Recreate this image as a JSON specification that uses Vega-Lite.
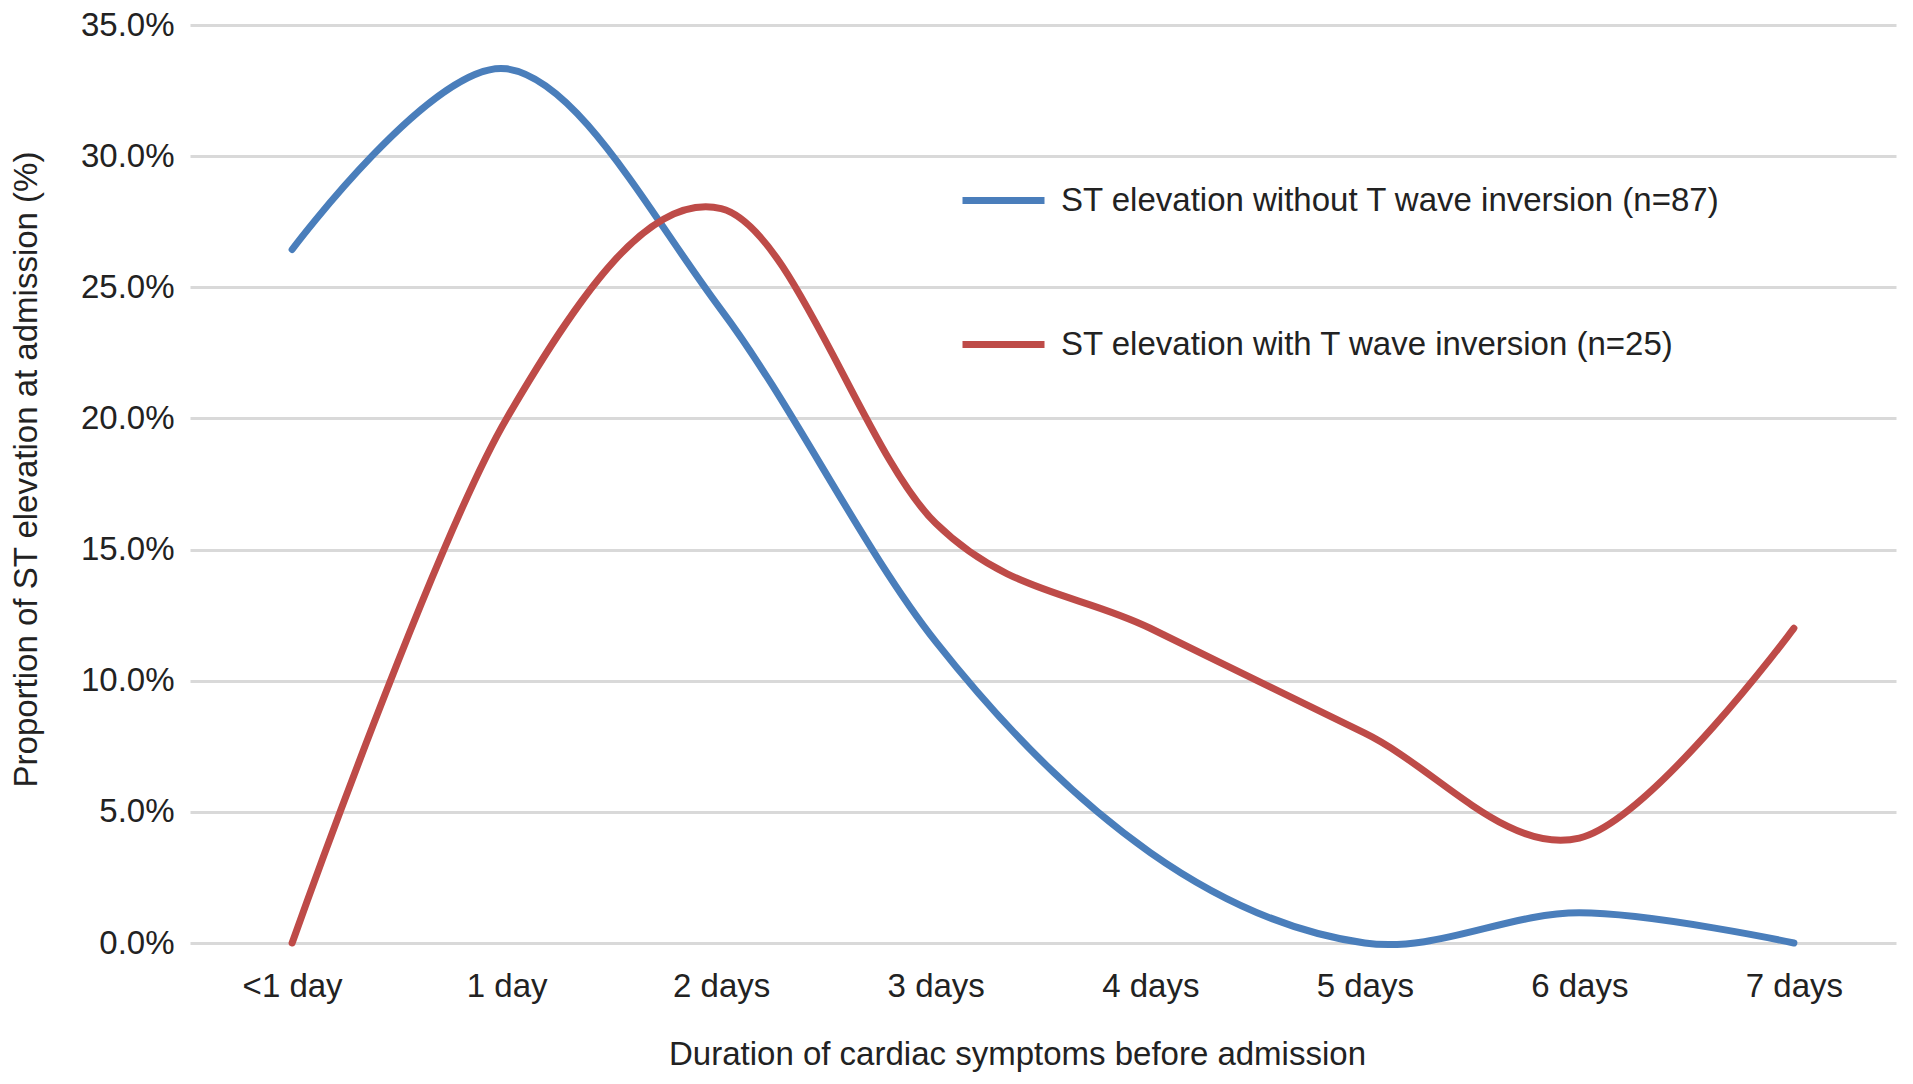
{
  "$schema": "https://vega.github.io/schema/vega-lite/v6.json",
  "width": 1706,
  "height": 918,
  "autosize": "none",
  "padding": {"left": 190, "top": 25, "right": 17, "bottom": 141},
  "background": "white",
  "data": {
    "values": [
      {"duration": "<1 day", "group": "ST elevation without T wave inversion (n=87)", "proportion": 0.2644},
      {"duration": "1 day", "group": "ST elevation without T wave inversion (n=87)", "proportion": 0.3333},
      {"duration": "2 days", "group": "ST elevation without T wave inversion (n=87)", "proportion": 0.2414},
      {"duration": "3 days", "group": "ST elevation without T wave inversion (n=87)", "proportion": 0.1149},
      {"duration": "4 days", "group": "ST elevation without T wave inversion (n=87)", "proportion": 0.0345},
      {"duration": "5 days", "group": "ST elevation without T wave inversion (n=87)", "proportion": 0.0},
      {"duration": "6 days", "group": "ST elevation without T wave inversion (n=87)", "proportion": 0.0115},
      {"duration": "7 days", "group": "ST elevation without T wave inversion (n=87)", "proportion": 0.0},
      {"duration": "<1 day", "group": "ST elevation with T wave inversion (n=25)", "proportion": 0.0},
      {"duration": "1 day", "group": "ST elevation with T wave inversion (n=25)", "proportion": 0.20},
      {"duration": "2 days", "group": "ST elevation with T wave inversion (n=25)", "proportion": 0.28},
      {"duration": "3 days", "group": "ST elevation with T wave inversion (n=25)", "proportion": 0.16},
      {"duration": "4 days", "group": "ST elevation with T wave inversion (n=25)", "proportion": 0.12},
      {"duration": "5 days", "group": "ST elevation with T wave inversion (n=25)", "proportion": 0.08},
      {"duration": "6 days", "group": "ST elevation with T wave inversion (n=25)", "proportion": 0.04},
      {"duration": "7 days", "group": "ST elevation with T wave inversion (n=25)", "proportion": 0.12}
    ]
  },
  "mark": {"type": "line", "interpolate": "cardinal", "strokeWidth": 7, "strokeCap": "round"},
  "encoding": {
    "x": {
      "field": "duration",
      "type": "ordinal",
      "sort": ["<1 day", "1 day", "2 days", "3 days", "4 days", "5 days", "6 days", "7 days"],
      "scale": {"type": "point", "padding": 0.476},
      "axis": {
        "title": "Duration of cardiac symptoms before admission",
        "labelAngle": 0,
        "labelPadding": 27,
        "titlePadding": 35,
        "titleX": 827,
        "titleAlign": "center",
        "titleAnchor": null,
        "ticks": false,
        "domain": false,
        "grid": false
      }
    },
    "y": {
      "field": "proportion",
      "type": "quantitative",
      "scale": {"domain": [0, 0.35], "nice": false, "zero": true},
      "axis": {
        "title": "Proportion of ST elevation at admission (%)",
        "format": ".1%",
        "values": [0, 0.05, 0.1, 0.15, 0.2, 0.25, 0.3, 0.35],
        "labelPadding": 16,
        "titlePadding": 37,
        "titleY": 444,
        "titleAlign": "center",
        "titleAnchor": null,
        "ticks": false,
        "domain": false,
        "grid": true,
        "gridColor": "#d9d9d9",
        "gridWidth": 3
      }
    },
    "color": {
      "field": "group",
      "type": "nominal",
      "scale": {
        "domain": ["ST elevation without T wave inversion (n=87)", "ST elevation with T wave inversion (n=25)"],
        "range": ["#4a7ebb", "#be4b48"]
      },
      "legend": {
        "title": null,
        "orient": "none",
        "legendX": 769,
        "legendY": 131,
        "symbolType": "stroke",
        "symbolSize": 6724,
        "symbolStrokeWidth": 7,
        "labelFontSize": 33,
        "labelFont": "Liberation Sans",
        "labelColor": "#222222",
        "labelLimit": 900,
        "labelOffset": 13,
        "rowPadding": 82,
        "padding": 0
      }
    }
  },
  "config": {
    "view": {"stroke": null},
    "axis": {
      "labelFont": "Liberation Sans",
      "titleFont": "Liberation Sans",
      "labelFontSize": 33,
      "titleFontSize": 33,
      "labelColor": "#222222",
      "titleColor": "#222222",
      "titleFontWeight": "normal"
    }
  }
}
